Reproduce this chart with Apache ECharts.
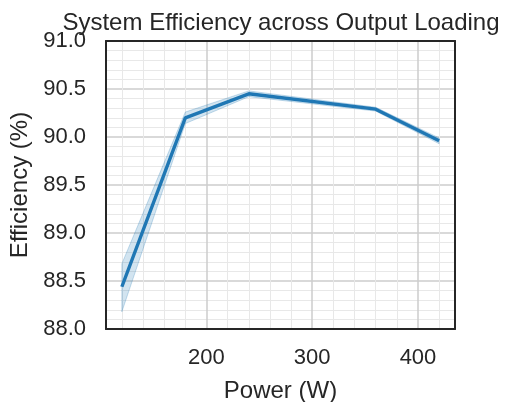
<!DOCTYPE html>
<html>
<head>
<meta charset="utf-8">
<script src="https://cdn.jsdelivr.net/npm/echarts@6/dist/echarts.min.js"></script>
<style>html,body{margin:0;padding:0;background:#fff;}#c{width:510px;height:402px;}</style>
</head>
<body>
<div id="c"></div>
<script>
const power = [120, 180, 240, 360, 420];
const efficiency = [88.44, 90.20, 90.45, 90.29, 89.96];
const bandLower = [88.18, 90.14, 90.42, 90.27, 89.93];
const bandUpper = [88.68, 90.26, 90.48, 90.31, 89.99];
const xTickLabels = [200, 300, 400];
const xMinorGrid = [120, 140, 160, 180, 220, 240, 260, 280, 320, 340, 360, 380, 420];
const xMajorGrid = [200, 300, 400];

const txt = '#262626';
const font = 'Liberation Sans, Arial, sans-serif';
const chart = echarts.init(document.getElementById('c'), null, {renderer: 'canvas'});

const lineData = power.map((p, i) => [p, efficiency[i]]);
const bandData = power.map((p, i) => [p, bandLower[i], bandUpper[i]]);
const frameLine = {show: true, onZero: false, lineStyle: {color: txt, width: 2}};

chart.setOption({
  animation: false,
  backgroundColor: '#ffffff',
  title: {
    text: 'System Efficiency across Output Loading',
    left: 276, top: 6, textAlign: 'center',
    textStyle: {fontFamily: font, fontSize: 24, fontWeight: 'normal', color: txt}
  },
  grid: {left: 106, top: 41, right: 55, bottom: 73, show: false, containLabel: false, outerBoundsMode: 'none'},
  xAxis: [{
    type: 'value', min: 105, max: 435, position: 'bottom',
    name: 'Power (W)', nameLocation: 'middle', nameGap: 50,
    nameTextStyle: {fontFamily: font, fontSize: 24, color: txt},
    axisLine: {show: false}, axisTick: {show: false},
    splitLine: {show: false},
    axisLabel: {customValues: xTickLabels, fontFamily: font, fontSize: 22, color: txt, margin: 18}
  }, {
    type: 'value', min: 105, max: 435, position: 'bottom', z: 10,
    axisLine: frameLine, axisTick: {show: false}, axisLabel: {show: false}, splitLine: {show: false}
  }, {
    type: 'value', min: 105, max: 435, position: 'top', z: 10,
    axisLine: frameLine, axisTick: {show: false}, axisLabel: {show: false}, splitLine: {show: false}
  }],
  yAxis: [{
    type: 'value', min: 88, max: 91, interval: 0.5, position: 'left',
    name: 'Efficiency (%)', nameLocation: 'middle', nameGap: 72, nameRotate: 90,
    nameTextStyle: {fontFamily: font, fontSize: 24, color: txt},
    axisLine: {show: false}, axisTick: {show: false},
    axisLabel: {fontFamily: font, fontSize: 22, color: txt, margin: 20, formatter: v => v.toFixed(1)},
    splitLine: {show: true, lineStyle: {color: '#cccccc', width: 1.5}},
    minorTick: {show: false, splitNumber: 5},
    minorSplitLine: {show: true, lineStyle: {color: '#e8e8e8', width: 1}}
  }, {
    type: 'value', min: 88, max: 91, interval: 0.5, position: 'left', z: 10,
    axisLine: frameLine, axisTick: {show: false}, axisLabel: {show: false}, splitLine: {show: false}
  }, {
    type: 'value', min: 88, max: 91, interval: 0.5, position: 'right', z: 10,
    axisLine: frameLine, axisTick: {show: false}, axisLabel: {show: false}, splitLine: {show: false}
  }],
  series: [
    {
      type: 'line', data: [], z: 1, silent: true,
      markLine: {
        silent: true, symbol: 'none', label: {show: false}, animation: false, z: 1,
        data: xMinorGrid.map(v => ({xAxis: v, lineStyle: {color: '#e8e8e8', width: 1, type: 'solid'}}))
          .concat(xMajorGrid.map(v => ({xAxis: v, lineStyle: {color: '#cccccc', width: 1.5, type: 'solid'}})))
      }
    },
    {
      type: 'custom', z: 2, silent: true,
      data: bandData,
      encode: {x: 0, y: [1, 2]},
      renderItem: function (params, api) {
        if (params.dataIndex !== 0) return null;
        const up = bandData.map(d => api.coord([d[0], d[2]]));
        const lo = bandData.map(d => api.coord([d[0], d[1]])).reverse();
        return {
          type: 'polygon',
          shape: {points: up.concat(lo)},
          style: {fill: 'rgba(31,119,180,0.2)', stroke: 'rgba(31,119,180,0.25)', lineWidth: 1}
        };
      }
    },
    {
      type: 'line', data: lineData, z: 3, showSymbol: false, symbol: 'none',
      lineStyle: {color: '#1f77b4', width: 3.4}
    }
  ]
});
</script>
</body>
</html>
